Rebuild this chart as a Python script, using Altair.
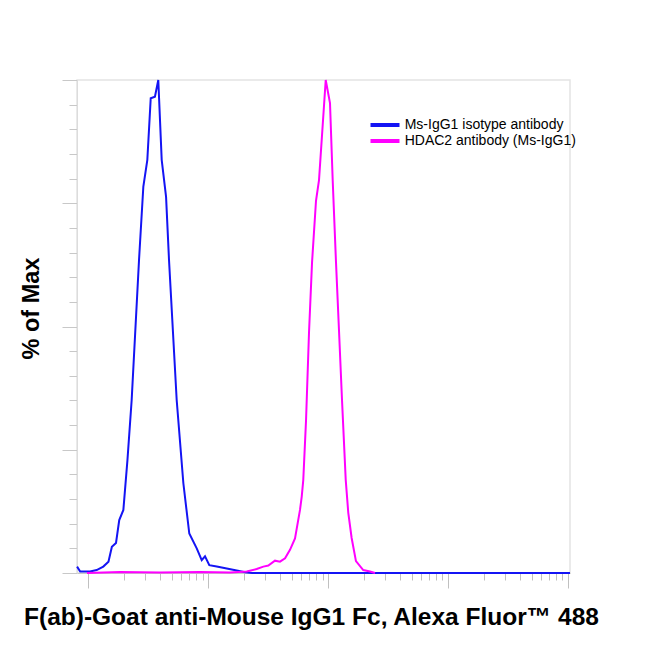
import altair as alt
import pandas as pd

# Ms-IgG1 isotype antibody (blue)
iso_x = [81, 86, 104, 118, 134, 148, 158, 171, 182, 197, 213, 231, 266, 289, 312, 333, 361, 385,
         411, 447, 473, 548, 623, 698, 805, 886, 944, 1025, 1182, 1432, 1734, 2033, 2328, 1039900]
iso_y = [1.3, 0.3, 0.3, 0.6, 1.3, 2.3, 5.3, 6.1, 10.75, 12.8, 22.9, 35.1, 63.5, 78.4, 83.8, 96.3, 96.6, 100,
         83.8, 76.3, 63.5, 35.1, 18.2, 8.0, 5.0, 2.6, 3.4, 1.6, 1.3, 0.9, 0.5, 0.15, 0, 0]

# HDAC2 antibody (Ms-IgG1) (magenta)
hd_x = [98, 185, 398, 858, 1525, 2102, 2545, 2890, 3181, 3614, 3981, 4385, 4822, 5309, 5842, 6040, 6223,
        6561, 6950, 7362, 7943, 8414, 9572, 10390, 10940, 11660, 12360, 13090, 14050, 14760, 15740,
        17100, 19670, 22390, 24660]
hd_y = [0, 0.2, 0.1, 0.2, 0.1, 0.3, 0.8, 1.3, 1.5, 2.5, 2.3, 3.0, 4.7, 7.0, 12.8, 15.5, 18.9,
        31, 49, 63, 75.5, 79.7, 100, 95.3, 79.7, 63, 49, 35, 18.9, 12.2, 7.1,
        2.4, 0.6, 0.3, 0]

series = ["Ms-IgG1 isotype antibody", "HDAC2 antibody (Ms-IgG1)"]
colors = ["#1414f4", "#ff00ff"]

x_ticks = [m * 10 ** d for d in range(2, 6) for m in range(1, 10)] + [1000000]
x_major = [100, 1000, 10000, 100000, 1000000]
y_ticks = list(range(0, 101, 5))

df = pd.concat([
    pd.DataFrame({"x": iso_x, "y": iso_y, "s": series[0], "o": 0}),
    pd.DataFrame({"x": hd_x, "y": hd_y, "s": series[1], "o": 1}),
])

FONT = "Liberation Sans"

chart = alt.Chart(df).mark_line(strokeWidth=2, interpolate="linear").encode(
    x=alt.X("x:Q",
            scale=alt.Scale(type="log", domain=[80.9, 1039900], nice=False),
            axis=alt.Axis(
                values=x_ticks, labels=False, grid=False,
                domainColor="#c8c8c8", tickColor="#c0c0c0",
                tickSize={"condition": {"test": f"indexof({x_major}, datum.value) >= 0", "value": 15}, "value": 7},
                title="F(ab)-Goat anti-Mouse IgG1 Fc, Alexa Fluor™ 488",
                titleFont=FONT, titleFontSize=24.5, titleFontWeight="bold", titleColor="#000000",
                titleX=234, titleY=44, titleAlign="center", titleBaseline="middle",
            )),
    y=alt.Y("y:Q",
            scale=alt.Scale(domain=[0, 100], nice=False),
            axis=alt.Axis(
                values=y_ticks, labels=False, grid=False,
                domainColor="#dcdcdc", tickColor="#c8c8c8",
                tickSize={"condition": {"test": "datum.value % 25 === 0", "value": 15}, "value": 8},
                title="% of Max",
                titleFont=FONT, titleFontSize=23.5, titleFontWeight="bold", titleColor="#000000",
                titleX=-46, titleY=228, titleAlign="center", titleBaseline="middle", titleAngle=-90,
            )),
    color=alt.Color("s:N", scale=alt.Scale(domain=series, range=colors),
                    legend=alt.Legend(
                        title=None, orient="none", legendX=300, legendY=37,
                        symbolType="M-2.5,0H2.5", symbolStrokeWidth=4, symbolSize=134.6,
                        labelFont=FONT, labelFontSize=14, labelColor="#000000", labelLimit=400,
                        rowPadding=0, padding=0, labelOffset=11.7,
                    )),
    order=alt.Order("o:Q"),
).properties(
    width=493, height=493,
    autosize=alt.AutoSizeParams(type="none"),
    padding={"left": 77, "top": 80, "right": 80, "bottom": 77},
).configure_view(stroke="#e4e4e4", strokeWidth=1.5)

chart.save("out.html", embed_options={"renderer": "svg", "actions": False})
